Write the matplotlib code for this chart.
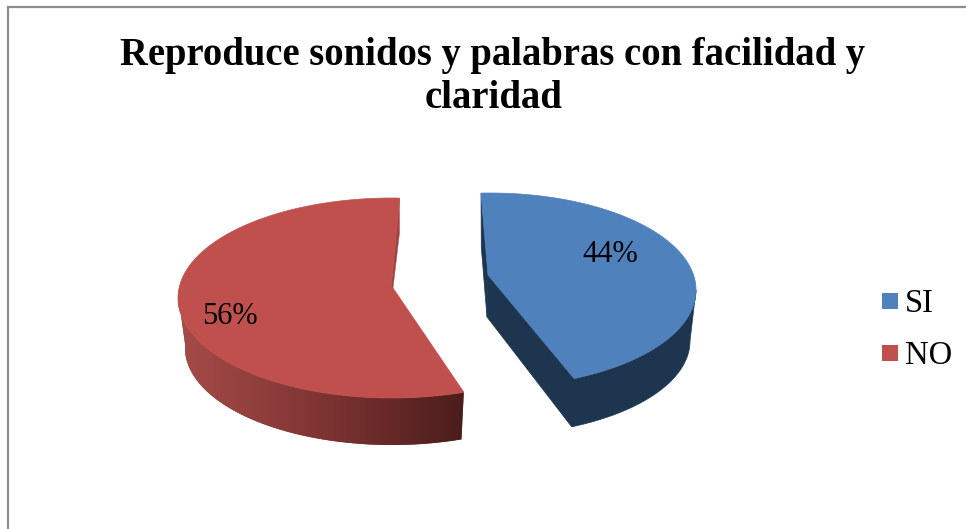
import numpy as np
import matplotlib
matplotlib.use("Agg")
import matplotlib.pyplot as plt
from matplotlib.colors import LinearSegmentedColormap
from matplotlib.patches import Polygon, Rectangle

#chart data
categories = ["SI", "NO"]
values = [44, 56]
title_lines = ["Reproduce sonidos y palabras con facilidad y", "claridad"]

plt.rcParams["font.family"] = ["Liberation Serif", "DejaVu Serif"]


def rim(angles, cx, cy, a, b):
    # angles clockwise from 12 o'clock, y axis points down
    r = np.radians(angles)
    return np.column_stack([cx + a * np.sin(r), cy - b * np.cos(r)])


fig = plt.figure(figsize=(9.66, 5.29), dpi=100)
ax = fig.add_axes([0, 0, 1, 1])
ax.axis("off")

# frame of the chart, cut off by the crop on the right and bottom
ax.plot([8, 8, 966], [529, 7, 7], color="#8e8e8e", lw=1.6, solid_joinstyle="miter")

spans = np.array(values) / sum(values) * 360

# blue slice
blue_start = -2.5
blue_end = blue_start + spans[0]
top = (490, 290, 206, 97)
bottom = (490, 341, 200, 94)
blue_apex = (488, 275)
blue_apex_low = (487, 317)
t = np.linspace(blue_start, blue_end, 200)
t_side = np.linspace(90, blue_end, 100)

side = np.vstack([[blue_apex], rim(t_side[::-1], *top), rim(t_side, *bottom), [blue_apex_low]])
ax.add_patch(Polygon(side, color="#1e3550", lw=0.5))
back = np.vstack([rim([blue_start], *top), rim([blue_start], *bottom), [blue_apex_low], [blue_apex]])
ax.add_patch(Polygon(back, color="#1e3550", lw=0.5))
ax.add_patch(Polygon(np.vstack([[blue_apex], rim(t, *top)]), color="#4f81bd", lw=0.5))

# red slice
red_end = 362
red_start = red_end - spans[1]
top = (392, 298, 214, 100)
bottom = (392, 348, 207, 97)
red_apex = (393, 288)
t = np.linspace(red_start, red_end, 300)

# outer wall, shaded from dark on the right to lighter on the left
edges = np.linspace(red_start, 272, 90)
upper = rim(edges, *top)
lower = rim(edges, *bottom)
wall = Polygon(np.vstack([upper, lower[::-1]]), color="#7f3432", lw=0)
ax.add_patch(wall)
shade = LinearSegmentedColormap.from_list("wall", ["#a64c49", "#7f3432", "#4a1d1c"])
img = ax.imshow(np.linspace(0, 1, 256)[None, :], cmap=shade, aspect="auto",
                extent=[upper[:, 0].min(), upper[:, 0].max() + 1, 460, 290], zorder=1.5)
img.set_clip_path(wall)

# small inner wall by the notch
end_pt = rim([red_end], *top)[0]
ax.add_patch(Polygon([end_pt, (end_pt[0], end_pt[1] + 35), red_apex, (red_apex[0] - 2, red_apex[1])],
                     color="#a24340", lw=0.3, zorder=2))
ax.add_patch(Polygon(np.vstack([[(red_apex[0] - 2, red_apex[1])], [red_apex], rim(t, *top)]),
                     color="#c0504d", lw=0.5, zorder=2))

# percent labels
ax.text(610, 254, f"{values[0]}%", fontsize=22, ha="center", va="center", color="black", zorder=3)
ax.text(230, 316, f"{values[1]}%", fontsize=22, ha="center", va="center", color="black", zorder=3)

# title
ax.text(493, 55, title_lines[0], fontsize=27.8, fontweight="bold", ha="center", va="center")
ax.text(493, 98, title_lines[1], fontsize=27.8, fontweight="bold", ha="center", va="center")

# legend
for name, y, col in zip(categories, [301, 353], ["#4f81bd", "#c0504d"]):
    ax.add_patch(Rectangle((882, y - 8), 16, 16, color=col, lw=0))
    ax.text(905, y + 3, name, fontsize=23.5, ha="left", va="center", color="black")

ax.set_xlim(0, 966)
ax.set_ylim(529, 0)

fig.savefig("out.png", dpi=100)
